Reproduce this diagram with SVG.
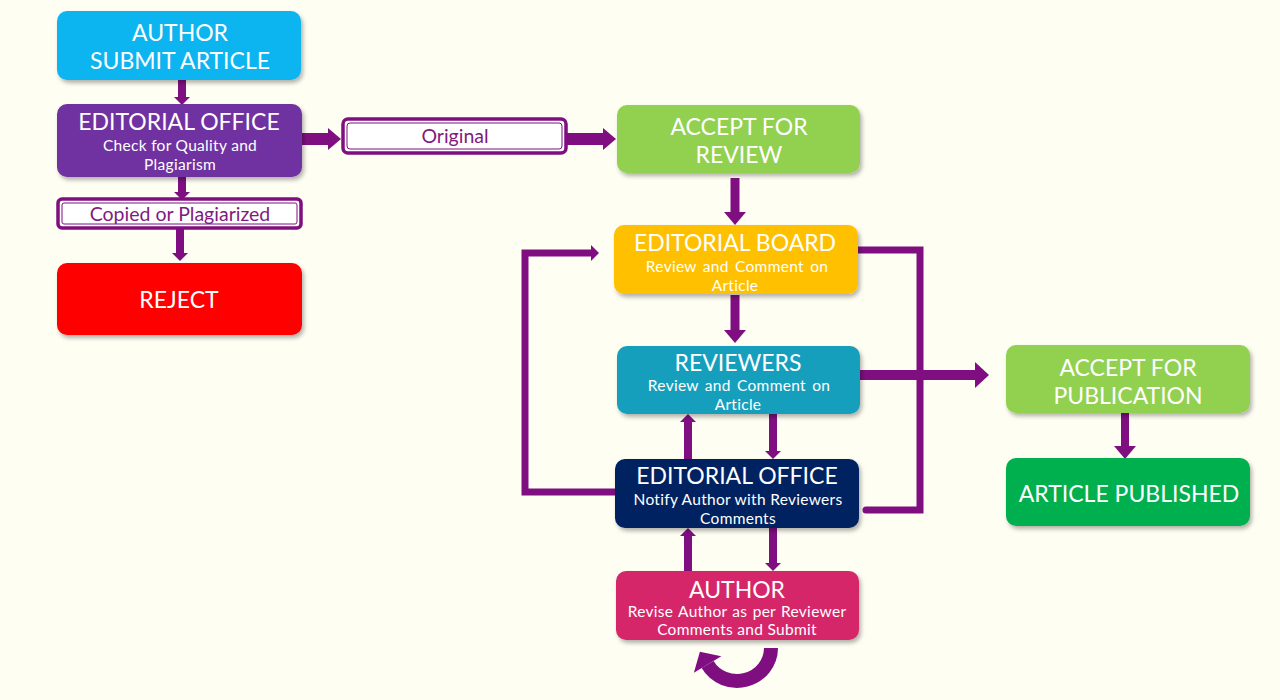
<svg xmlns="http://www.w3.org/2000/svg" width="1280" height="700" viewBox="0 0 1280 700">
<style>
.node{stroke:none;filter:url(#sh)}
.t{font-family:Lato,"Open Sans","Liberation Sans",sans-serif;fill:#ffffff;text-anchor:middle}
.h{font-size:23px;font-weight:400}
.s{font-size:15.5px;letter-spacing:0.3px}
.lbl{font-family:Lato,"Open Sans","Liberation Sans",sans-serif;fill:#7F1A80;font-size:19.5px;text-anchor:middle}
.c{fill:none;stroke:#7F0F80;stroke-linejoin:miter}
.ob{fill:#ffffff;stroke:#7F0F80;stroke-width:3.5}
.ib{fill:none;stroke:#7F0F80;stroke-width:1}
</style>
<defs>
<filter id="sh" x="-10%" y="-20%" width="125%" height="150%">
<feDropShadow dx="2" dy="3" stdDeviation="2" flood-color="#000" flood-opacity="0.3"/>
</filter>
<marker id="big" markerUnits="userSpaceOnUse" markerWidth="16" markerHeight="30" refX="0" refY="13" orient="auto" overflow="visible">
<path d="M0,0 L14,13 L0,26 z" fill="#7F0F80"/>
</marker>
<marker id="med" markerUnits="userSpaceOnUse" markerWidth="16" markerHeight="26" refX="0" refY="11" orient="auto" overflow="visible">
<path d="M0,0 L13,11 L0,22 z" fill="#7F0F80"/>
</marker>
<marker id="sm" markerUnits="userSpaceOnUse" markerWidth="10" markerHeight="18" refX="0" refY="8" orient="auto" overflow="visible">
<path d="M0,0 L8,8 L0,16 z" fill="#7F0F80"/>
</marker>
<marker id="curv" markerUnits="userSpaceOnUse" markerWidth="18" markerHeight="34" refX="0" refY="16" orient="auto" overflow="visible">
<path d="M0,0 L15,16 L0,32 z" fill="#7F0F80"/>
</marker>
</defs>
<rect x="0" y="0" width="1280" height="700" fill="#FEFEF3"/>

<g id="connectors">
<path class="c" d="M182,80 V97" stroke-width="8" marker-end="url(#sm)"/>
<path class="c" d="M182,177 V192" stroke-width="8" marker-end="url(#sm)"/>
<path class="c" d="M180,228 V253" stroke-width="8" marker-end="url(#sm)"/>
<path class="c" d="M302,139 H328" stroke-width="12" marker-end="url(#med)"/>
<path class="c" d="M567,139 H603" stroke-width="12" marker-end="url(#med)"/>
<path class="c" d="M735,178 V212" stroke-width="9" marker-end="url(#med)"/>
<path class="c" d="M735,295 V330" stroke-width="9" marker-end="url(#med)"/>
<path class="c" d="M860,375 H975" stroke-width="10" marker-end="url(#big)"/>
<path class="c" d="M615,492 H525 V253 H591" stroke-width="7" marker-end="url(#sm)"/>
<path class="c" d="M858,250 H920 V510 H866" stroke-width="7" stroke-linecap="round"/>
<path class="c" d="M688,459 V422" stroke-width="8" marker-end="url(#sm)"/>
<path class="c" d="M773,414 V451" stroke-width="8" marker-end="url(#sm)"/>
<path class="c" d="M688,571 V536" stroke-width="8" marker-end="url(#sm)"/>
<path class="c" d="M773,528 V563" stroke-width="8" marker-end="url(#sm)"/>
<path class="c" d="M1125,413 V446" stroke-width="8" marker-end="url(#med)"/>
<path class="c" d="M771,648 A34,33 0 0 1 707.6,664.5" stroke-width="14" marker-end="url(#curv)"/>
</g>

<g id="n-author-submit">
<rect class="node" x="57" y="11" width="244" height="69" rx="10" fill="#0BB5F0"/>
<text class="t h" x="180" y="41">AUTHOR</text>
<text class="t h" x="180" y="69">SUBMIT ARTICLE</text>
</g>

<g id="n-editorial-office-1">
<rect class="node" x="57" y="104" width="245" height="73" rx="10" fill="#7030A0"/>
<text class="t h" x="179" y="130">EDITORIAL OFFICE</text>
<text class="t s" x="180" y="151">Check for Quality and</text>
<text class="t s" x="180" y="170">Plagiarism</text>
</g>

<g id="n-copied">
<rect class="ob" x="58" y="199" width="243" height="29" rx="4"/>
<rect class="ib" x="62" y="203" width="235" height="21" rx="2"/>
<text class="lbl" x="180" y="221">Copied or Plagiarized</text>
</g>

<g id="n-reject">
<rect class="node" x="57" y="263" width="245" height="72" rx="10" fill="#FF0000"/>
<text class="t h" x="179" y="308">REJECT</text>
</g>

<g id="n-original">
<rect class="ob" x="343" y="119" width="223" height="34" rx="5"/>
<rect class="ib" x="347" y="123" width="215" height="26" rx="3"/>
<text class="lbl" x="455" y="143">Original</text>
</g>

<g id="n-accept-review">
<rect class="node" x="617" y="105" width="243" height="68" rx="10" fill="#92D050"/>
<text class="t h" x="739" y="135">ACCEPT FOR</text>
<text class="t h" x="739" y="163">REVIEW</text>
</g>

<g id="n-editorial-board">
<rect class="node" x="614" y="225" width="244" height="69" rx="10" fill="#FFC000"/>
<text class="t h" x="735" y="251">EDITORIAL BOARD</text>
<text class="t s" x="737" y="272" word-spacing="2">Review and Comment on</text>
<text class="t s" x="735" y="291">Article</text>
</g>

<g id="n-reviewers">
<rect class="node" x="617" y="346" width="243" height="68" rx="10" fill="#149FBD"/>
<text class="t h" x="738" y="371">REVIEWERS</text>
<text class="t s" x="739" y="391" word-spacing="2">Review and Comment on</text>
<text class="t s" x="738" y="410">Article</text>
</g>

<g id="n-editorial-office-2">
<rect class="node" x="615" y="459" width="244" height="69" rx="10" fill="#002060"/>
<text class="t h" x="737" y="484">EDITORIAL OFFICE</text>
<text class="t s" x="738" y="505">Notify Author with Reviewers</text>
<text class="t s" x="738" y="524">Comments</text>
</g>

<g id="n-author-revise">
<rect class="node" x="616" y="571" width="243" height="69" rx="10" fill="#D5286B"/>
<text class="t h" x="737" y="598">AUTHOR</text>
<text class="t s" x="737" y="617" word-spacing="1">Revise Author as per Reviewer</text>
<text class="t s" x="737" y="635">Comments and Submit</text>
</g>

<g id="n-accept-publication">
<rect class="node" x="1006" y="345" width="244" height="68" rx="10" fill="#92D050"/>
<text class="t h" x="1128" y="376">ACCEPT FOR</text>
<text class="t h" x="1128" y="404">PUBLICATION</text>
</g>

<g id="n-published">
<rect class="node" x="1006" y="458" width="244" height="68" rx="10" fill="#00B050"/>
<text class="t h" x="1129" y="502">ARTICLE PUBLISHED</text>
</g>
</svg>
